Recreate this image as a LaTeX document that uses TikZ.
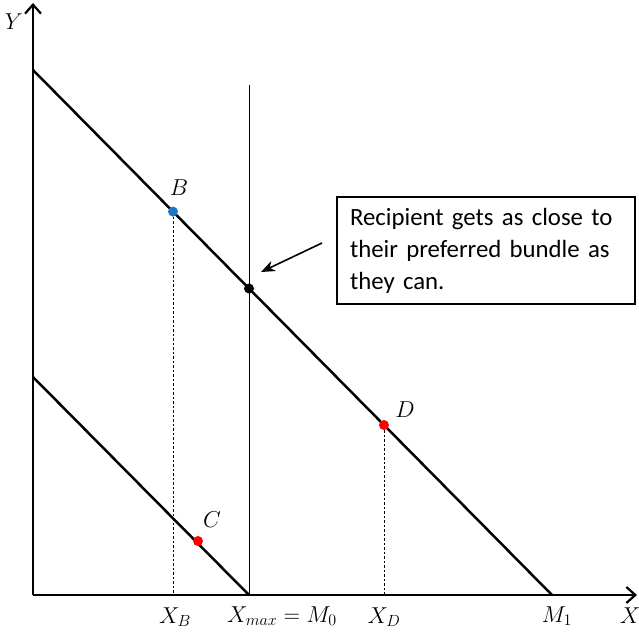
\documentclass[tikz,border=0pt]{standalone}
\usepackage{fix-cm}
\usepackage{fontspec}
\newfontfamily\boxfont{Carlito}
\usetikzlibrary{arrows.meta}
\tikzset{
  axisline/.style={line width=2.5pt, -{Straight Barb[length=9pt,width=16pt,line width=2.2pt]}},
  budget/.style={line width=2.5pt},
  thinline/.style={line width=0.9pt},
  guide/.style={line width=0.9pt, dash pattern=on 2.5pt off 2pt},
  dotpt/.style={circle, inner sep=0pt, minimum size=10pt},
  mlabel/.style={font=\fontsize{23}{27}\selectfont, inner sep=0pt},
  notebox/.style={draw, line width=1.3pt, minimum width=298pt, minimum height=107pt, text width=272pt, align=left, inner sep=0pt, font=\boxfont\fontsize{24.8}{32}\selectfont},
  pointer/.style={line width=1.6pt, -{Stealth[length=14pt,width=11pt]}}
}
\begin{document}
\begin{tikzpicture}[x=1pt,y=-1pt]
\useasboundingbox (0,0) rectangle (639,633);
% axes
\coordinate (O) at (33,595);
\coordinate (Ytop) at (33,3);
\coordinate (Xend) at (637,595);
\draw[axisline] (O) -- (Ytop);
\draw[axisline] (O) -- (Xend);
% budget lines
\coordinate (U0) at (33,70);
\coordinate (U1) at (552,595);
\coordinate (L0) at (33,377);
\coordinate (L1) at (249,595);
\draw[budget] (U0) -- (U1);
\draw[budget] (L0) -- (L1);
% vertical X_max line
\coordinate (Vtop) at (249,85);
\coordinate (Vbot) at (249,595);
\draw[thinline] (Vtop) -- (Vbot);
% points
\node[dotpt, fill={rgb,255:red,30;green,120;blue,200}] (B) at (173,211.6) {};
\node[dotpt, fill=black] (E) at (249,288.5) {};
\node[dotpt, fill=red] (D) at (384,425) {};
\node[dotpt, fill=red] (C) at (198,541) {};
\coordinate (Bbase) at (173,595);
\coordinate (Dbase) at (384,595);
\draw[guide] (B) -- (Bbase);
\draw[guide] (D) -- (Dbase);
% point labels
\node[mlabel] (Blab) at (179,188) {$B$};
\node[mlabel] (Clab) at (212,520) {$C$};
\node[mlabel] (Dlab) at (405,410) {$D$};
% axis labels
\node[mlabel] (Ylab) at (14,22) {$Y$};
\node[mlabel] (Xlab) at (630,616) {$X$};
\node[mlabel] (XBlab) at (175,617) {$X_B$};
\node[mlabel] (Xmaxlab) at (282,616) {$X_{max} = M_0$};
\node[mlabel] (XDlab) at (384,617) {$X_D$};
\node[mlabel] (M1lab) at (557,616) {$M_1$};
% note box
\node[notebox] (note) at (486,250.5) {Recipient gets as close to\\their preferred bundle as\\they can.};
\coordinate (Astart) at (322,243);
\coordinate (Aend) at (261,272);
\draw[pointer] (Astart) -- (Aend);
\end{tikzpicture}
\end{document}
